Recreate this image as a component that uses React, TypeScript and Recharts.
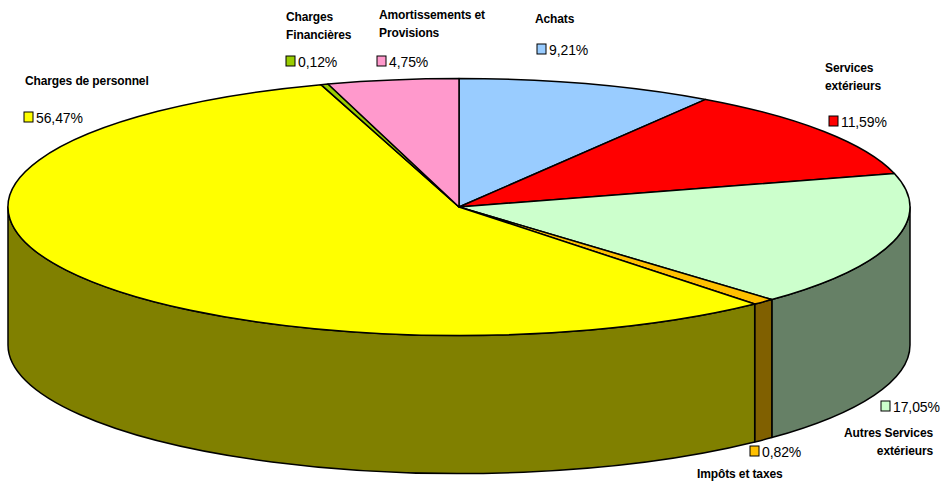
import React from "react";
import { PieChart, Pie } from "recharts";

const categories = [
  "Achats",
  "Services extérieurs",
  "Autres Services extérieurs",
  "Impôts et taxes",
  "Charges de personnel",
  "Charges Financières",
  "Amortissements et Provisions",
];
// printed on the labels
const values = [9.21, 11.59, 17.05, 0.82, 56.47, 0.12, 4.75];
// slice sizes as measured on the picture, the 0,12% sliver is drawn wider than its label says
const drawnShares = [9.21, 11.59, 17.0, 0.82, 56.43, 0.26, 4.69];
const topColors = ["#99CCFF", "#FF0000", "#CCFFCC", "#FFC000", "#FFFF00", "#99CC00", "#FF99CC"];
const sideColors = ["#4C6680", "#800000", "#668066", "#806000", "#808000", "#4C6600", "#804C66"];

// how the names wrap on the picture
const nameLines = [
  ["Achats"],
  ["Services", "extérieurs"],
  ["Autres Services", "extérieurs"],
  ["Impôts et taxes"],
  ["Charges de personnel"],
  ["Charges", "Financières"],
  ["Amortissements et", "Provisions"],
];

// label placement: x / first line y of the name, then key box x / y
const labelLayout = [
  { nameX: 535, nameY: 19, keyX: 537, keyY: 49, anchor: "start" },
  { nameX: 825, nameY: 68, keyX: 829, keyY: 121, anchor: "start" },
  { nameX: 933, nameY: 433, keyX: 881, keyY: 406, anchor: "end" },
  { nameX: 697, nameY: 474, keyX: 750, keyY: 451, anchor: "start" },
  { nameX: 25, nameY: 81, keyX: 24, keyY: 117, anchor: "start" },
  { nameX: 286, nameY: 17, keyX: 286, keyY: 61, anchor: "start" },
  { nameX: 379, nameY: 15, keyX: 377, keyY: 61, anchor: "start" },
];

const chartData = categories.map((name, i) => ({ name, share: drawnShares[i] }));

const WIDTH = 941;
const HEIGHT = 482;
const CX = 459;
const CY = 207;
const RADIUS = 451;
const SQUASH = 0.285; // tilt of the pie
const DEPTH = 138;
const FONT = "'Liberation Sans', Arial, sans-serif";

const RAD = Math.PI / 180;

const ellipsePoint = (cx: number, cy: number, r: number, deg: number) => ({
  x: cx + r * Math.cos(deg * RAD),
  y: cy - r * SQUASH * Math.sin(deg * RAD),
});

// top face of a slice, squashed into an ellipse
const TopSlice = (props: any) => {
  const { cx, cy, outerRadius, startAngle, endAngle, index } = props;
  const a = ellipsePoint(cx, cy, outerRadius, startAngle);
  const b = ellipsePoint(cx, cy, outerRadius, endAngle);
  const large = Math.abs(startAngle - endAngle) > 180 ? 1 : 0;
  const ry = outerRadius * SQUASH;
  return (
    <path
      d={`M${cx},${cy} L${a.x},${a.y} A${outerRadius},${ry} 0 ${large} 1 ${b.x},${b.y} Z`}
      fill={topColors[index]}
      stroke="#000"
      strokeWidth={1.5}
      strokeLinejoin="round"
    />
  );
};

// outer wall, only the part that faces the viewer (between 0 and -180 degrees)
const SideSlice = (props: any) => {
  const { cx, cy, outerRadius, startAngle, endAngle, index } = props;
  const from = Math.min(startAngle, 0);
  const to = Math.max(endAngle, -180);
  if (from <= to) return <g />;
  const a = ellipsePoint(cx, cy, outerRadius, from);
  const b = ellipsePoint(cx, cy, outerRadius, to);
  const ry = outerRadius * SQUASH;
  const large = from - to > 180 ? 1 : 0;
  return (
    <path
      d={`M${a.x},${a.y} A${outerRadius},${ry} 0 ${large} 1 ${b.x},${b.y} L${b.x},${b.y + DEPTH} A${outerRadius},${ry} 0 ${large} 0 ${a.x},${a.y + DEPTH} Z`}
      fill={sideColors[index]}
      stroke="#000"
      strokeWidth={1.5}
      strokeLinejoin="round"
    />
  );
};

const SliceLabel = (props: any) => {
  const { index } = props;
  const pos = labelLayout[index];
  return (
    <g fontFamily={FONT}>
      <text
        x={pos.nameX}
        y={pos.nameY}
        textAnchor={pos.anchor}
        dominantBaseline="central"
        fontSize={12}
        fontWeight="bold"
        fill="#000"
        letterSpacing={-0.12}
      >
        {nameLines[index].map((line, i) => (
          <tspan key={line} x={pos.nameX} dy={i === 0 ? 0 : 17.5}>
            {line}
          </tspan>
        ))}
      </text>
      <rect
        x={pos.keyX}
        y={pos.keyY - 5}
        width={9}
        height={10}
        fill={topColors[index]}
        stroke="#000"
        strokeWidth={1}
      />
      <text
        x={pos.keyX + 12}
        y={pos.keyY + 1}
        dominantBaseline="central"
        fontSize={14}
        fill="#000"
        letterSpacing={-0.1}
      >
        {values[index].toFixed(2).replace(".", ",")}%
      </text>
    </g>
  );
};

export default function App() {
  return (
    <div style={{ position: "absolute", left: 0, top: 0, width: WIDTH, height: HEIGHT, background: "#fff" }}>
      <PieChart width={WIDTH} height={HEIGHT} margin={{ top: 0, right: 0, bottom: 0, left: 0 }}>
        {/* walls first, the top face goes over them */}
        <Pie
          data={chartData}
          dataKey="share"
          nameKey="name"
          cx={CX}
          cy={CY}
          outerRadius={RADIUS}
          startAngle={90}
          endAngle={-270}
          shape={SideSlice}
          stroke="none"
          isAnimationActive={false}
        />
        <Pie
          data={chartData}
          dataKey="share"
          nameKey="name"
          cx={CX}
          cy={CY}
          outerRadius={RADIUS}
          startAngle={90}
          endAngle={-270}
          shape={TopSlice}
          label={SliceLabel}
          labelLine={false}
          isAnimationActive={false}
        />
      </PieChart>
    </div>
  );
}
